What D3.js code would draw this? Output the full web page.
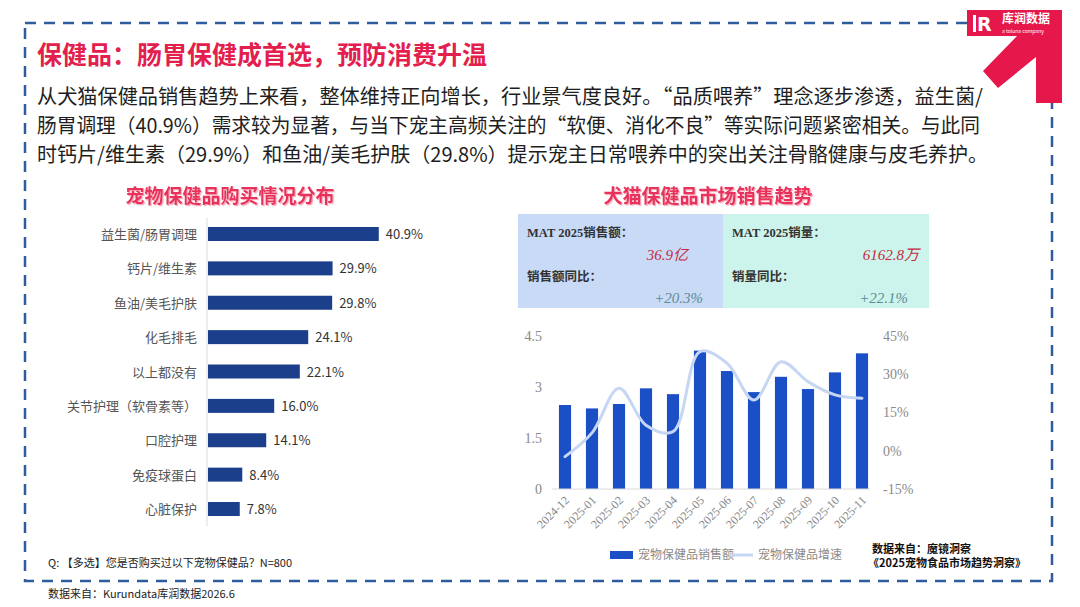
<!DOCTYPE html>
<html>
<head>
<meta charset="utf-8">
<script src="https://cdn.jsdelivr.net/npm/d3@7"></script>
<style>
  body { margin: 0; background: #fff; }
  svg { display: block; }
</style>
</head>
<body>
<div class="vis-container"></div>
<script>
// ---- data ----
const paraLines = [
  '从犬猫保健品销售趋势上来看，整体维持正向增长，行业景气度良好。“品质喂养”理念逐步渗透，益生菌/',
  '肠胃调理（40.9%）需求较为显著，与当下宠主高频关注的“软便、消化不良”等实际问题紧密相关。与此同',
  '时钙片/维生素（29.9%）和鱼油/美毛护肤（29.8%）提示宠主日常喂养中的突出关注骨骼健康与皮毛养护。'
];

const careCategories = ['益生菌/肠胃调理', '钙片/维生素', '鱼油/美毛护肤', '化毛排毛', '以上都没有',
  '关节护理（软骨素等）', '口腔护理', '免疫球蛋白', '心脏保护'];
const careShares = [40.9, 29.9, 29.8, 24.1, 22.1, 16.0, 14.1, 8.4, 7.8];

const months = ['2024-12', '2025-01', '2025-02', '2025-03', '2025-04', '2025-05',
  '2025-06', '2025-07', '2025-08', '2025-09', '2025-10', '2025-11'];
const salesValues = [2.47, 2.37, 2.5, 2.96, 2.79, 4.07, 3.47, 2.85, 3.3, 2.94, 3.43, 3.99];
const growthValues = [-2.3, 7, 24.5, 10, 7.5, 38.9, 34.3, 19.9, 34.9, 27.1, 21.9, 20.6];
const leftTicks = [0, 1.5, 3, 4.5];
const rightTicks = [-15, 0, 15, 30, 45];

const kpiLabels = ['MAT 2025销售额：', '销售额同比：', 'MAT 2025销量：', '销量同比：'];
const kpiValues = ['36.9亿', '+20.3%', '6162.8万', '+22.1%'];

const W = 1080, H = 607;
const sans = '"Noto Sans CJK SC", "Noto Sans", sans-serif';
const serif = '"Liberation Serif", "DejaVu Serif", "Noto Sans CJK SC", serif';
const red = '#e3204d';

const svg = d3.select('.vis-container').append('svg')
  .attr('width', W).attr('height', H)
  .style('background', '#fff');

const defs = svg.append('defs');
defs.append('filter').attr('id', 'glow')
  .attr('x', '-10%').attr('y', '-30%').attr('width', '120%').attr('height', '160%')
  .append('feDropShadow')
  .attr('dx', 1.2).attr('dy', 1.2).attr('stdDeviation', 0.6)
  .attr('flood-color', '#f5a9bb');

// dashed frame
svg.append('rect')
  .attr('x', 25).attr('y', 23).attr('width', 1027).attr('height', 558)
  .attr('fill', 'none')
  .attr('stroke', '#2f5c9c')
  .attr('stroke-width', 2.5)
  .attr('stroke-dasharray', '11,8');

// title + paragraph
svg.append('text')
  .attr('x', 37).attr('y', 64)
  .attr('font-family', sans).attr('font-weight', 'bold').attr('font-size', 25)
  .attr('fill', red)
  .text('保健品：肠胃保健成首选，预防消费升温');

const paraWidths = [946, 943, 951];
svg.append('g').selectAll('text')
  .data(paraLines)
  .join('text')
  .attr('x', 37)
  .attr('y', (d, i) => 104 + i * 29)
  .attr('font-family', sans).attr('font-size', 20)
  .attr('fill', '#1e1e1e')
  .attr('textLength', (d, i) => paraWidths[i])
  .attr('lengthAdjust', 'spacingAndGlyphs')
  .text((d) => d);

// chart titles
function chartTitle(x, label) {
  svg.append('text')
    .attr('x', x).attr('y', 203)
    .attr('text-anchor', 'middle')
    .attr('font-family', sans).attr('font-weight', 'bold').attr('font-size', 19)
    .attr('fill', '#e8325b')
    .attr('filter', 'url(#glow)')
    .text(label);
}
chartTitle(230, '宠物保健品购买情况分布');
chartTitle(708, '犬猫保健品市场销售趋势');

// ---- left: horizontal bar chart ----
const xBar = d3.scaleLinear().domain([0, 50]).range([207, 417]);
const yBar = d3.scalePoint().domain(careCategories).range([234, 509]);

svg.append('line')
  .attr('x1', 207).attr('x2', 207).attr('y1', 218).attr('y2', 526)
  .attr('stroke', '#d9d9d9').attr('stroke-width', 1);

const barG = svg.append('g');
barG.selectAll('rect')
  .data(careShares)
  .join('rect')
  .attr('x', xBar(0) + 1)
  .attr('y', (d, i) => yBar(careCategories[i]) - 7)
  .attr('width', (d) => xBar(d) - xBar(0) - 1)
  .attr('height', 14)
  .attr('fill', '#1c3f8c');

barG.selectAll('.val')
  .data(careShares)
  .join('text')
  .attr('class', 'val')
  .attr('x', (d) => xBar(d) + 7)
  .attr('y', (d, i) => yBar(careCategories[i]) + 5)
  .attr('font-family', sans).attr('font-size', 13)
  .attr('fill', '#333')
  .text((d) => d.toFixed(1) + '%');

barG.selectAll('.cat')
  .data(careCategories)
  .join('text')
  .attr('class', 'cat')
  .attr('x', 197)
  .attr('y', (d) => yBar(d) + 5)
  .attr('text-anchor', 'end')
  .attr('font-family', sans).attr('font-size', 13)
  .attr('fill', '#555')
  .text((d) => d);

// ---- right: KPI boxes ----
svg.append('rect').attr('x', 518).attr('y', 214).attr('width', 205).attr('height', 94).attr('fill', '#c9daf6');
svg.append('rect').attr('x', 723).attr('y', 214).attr('width', 206).attr('height', 94).attr('fill', '#cdf4ec');

const kpiG = svg.append('g').attr('font-family', serif);
[[527, 0], [527, 1], [732, 2], [732, 3]].forEach(([x, i]) => {
  kpiG.append('text')
    .attr('x', x).attr('y', i % 2 === 0 ? 237 : 281)
    .attr('font-size', 12.5).attr('font-weight', 'bold')
    .attr('fill', '#333')
    .text(kpiLabels[i]);
});
[[688, 260, 0, '#c42a3c'], [703, 303, 1, '#5c8c96'], [919, 260, 2, '#c42a3c'], [908, 303, 3, '#5c8c96']]
  .forEach(([x, y, i, c]) => {
    kpiG.append('text')
      .attr('x', x).attr('y', y)
      .attr('text-anchor', 'end')
      .attr('font-size', 15).attr('font-style', 'italic')
      .attr('fill', c)
      .text(kpiValues[i]);
  });

// ---- right: combo chart ----
const xM = d3.scaleBand().domain(months).range([551.5, 875.5])
  .paddingInner(0.55).paddingOuter(0.275);
const yL = d3.scaleLinear().domain([0, 4.5]).range([489, 336]);
const yR = d3.scaleLinear().domain([-15, 45]).range([489, 336]);

const combo = svg.append('g');

combo.append('g')
  .attr('transform', 'translate(552,0)')
  .call(d3.axisLeft(yL).tickValues(leftTicks).tickSize(0).tickPadding(10).tickFormat((d) => String(d)))
  .call((g) => g.select('.domain').remove())
  .call((g) => g.selectAll('text').attr('font-family', serif).attr('font-size', 14).attr('fill', '#8a8a8a'));

combo.append('g')
  .attr('transform', 'translate(873,0)')
  .call(d3.axisRight(yR).tickValues(rightTicks).tickSize(0).tickPadding(10).tickFormat((d) => d + '%'))
  .call((g) => g.select('.domain').remove())
  .call((g) => g.selectAll('text').attr('font-family', serif).attr('font-size', 14).attr('fill', '#8a8a8a'));

combo.append('g')
  .selectAll('rect')
  .data(salesValues)
  .join('rect')
  .attr('x', (d, i) => xM(months[i]))
  .attr('y', (d) => yL(d))
  .attr('width', xM.bandwidth())
  .attr('height', (d) => yL(0) - yL(d))
  .attr('fill', '#1a4fc6');

combo.append('g')
  .attr('transform', 'translate(0,489)')
  .call(d3.axisBottom(xM).tickSize(0))
  .call((g) => g.select('.domain').attr('stroke', '#d9d9d9').attr('d', 'M552,0H870'))
  .call((g) => g.selectAll('text')
    .attr('x', 0).attr('y', 0).attr('dy', 0)
    .attr('transform', 'translate(5,12) rotate(-45)')
    .attr('text-anchor', 'end')
    .attr('font-family', serif).attr('font-size', 12).attr('fill', '#888'));

const line = d3.line()
  .curve(d3.curveCatmullRom)
  .x((d, i) => xM(months[i]) + xM.bandwidth() / 2)
  .y((d) => yR(d));

combo.append('path')
  .datum(growthValues)
  .attr('fill', 'none')
  .attr('stroke', '#c6d6f3')
  .attr('stroke-width', 3)
  .attr('stroke-linecap', 'round')
  .attr('d', line);

// legend
const legend = svg.append('g').attr('font-family', serif).attr('font-size', 12).attr('fill', '#8a8a8a');
legend.append('rect').attr('x', 610).attr('y', 551).attr('width', 23).attr('height', 8).attr('fill', '#1a4fc6');
legend.append('text').attr('x', 638).attr('y', 559).text('宠物保健品销售额');
legend.append('line').attr('x1', 730).attr('x2', 753).attr('y1', 555).attr('y2', 555)
  .attr('stroke', '#c6d6f3').attr('stroke-width', 3);
legend.append('text').attr('x', 758).attr('y', 559).text('宠物保健品增速');

// sources / notes
svg.append('text').attr('x', 872).attr('y', 553)
  .attr('font-family', sans).attr('font-weight', 'bold').attr('font-size', 11).attr('fill', '#111')
  .text('数据来自：魔镜洞察');
svg.append('text').attr('x', 868).attr('y', 567)
  .attr('font-family', sans).attr('font-weight', 'bold').attr('font-size', 11).attr('fill', '#111')
  .text('《2025宠物食品市场趋势洞察》');
svg.append('text').attr('x', 48).attr('y', 567)
  .attr('font-family', sans).attr('font-size', 11).attr('fill', '#222')
  .text('Q: 【多选】您是否购买过以下宠物保健品？N=800');
svg.append('text').attr('x', 48).attr('y', 598)
  .attr('font-family', sans).attr('font-size', 11).attr('fill', '#222')
  .text('数据来自：Kurundata库润数据2026.6');

// logo arrow
const logo = svg.append('g');
logo.append('path')
  .attr('d', 'M967,10H1062V103H1036V57L998,88L983,71L1017,36H967Z')
  .attr('fill', '#e5174b');
logo.append('rect').attr('x', 973).attr('y', 15).attr('width', 3).attr('height', 17).attr('fill', '#fff');
logo.append('text').attr('x', 977).attr('y', 31)
  .attr('font-family', '"DejaVu Sans", sans-serif').attr('font-weight', 'bold').attr('font-size', 19)
  .attr('fill', '#fff').text('R');
logo.append('text').attr('x', 1002).attr('y', 23)
  .attr('font-family', sans).attr('font-weight', 'bold').attr('font-size', 12)
  .attr('fill', '#fff').text('库润数据');
logo.append('text').attr('x', 1002).attr('y', 33)
  .attr('font-family', sans).attr('font-size', 5)
  .attr('fill', '#fff').text('a toluna company');
</script>
</body>
</html>
